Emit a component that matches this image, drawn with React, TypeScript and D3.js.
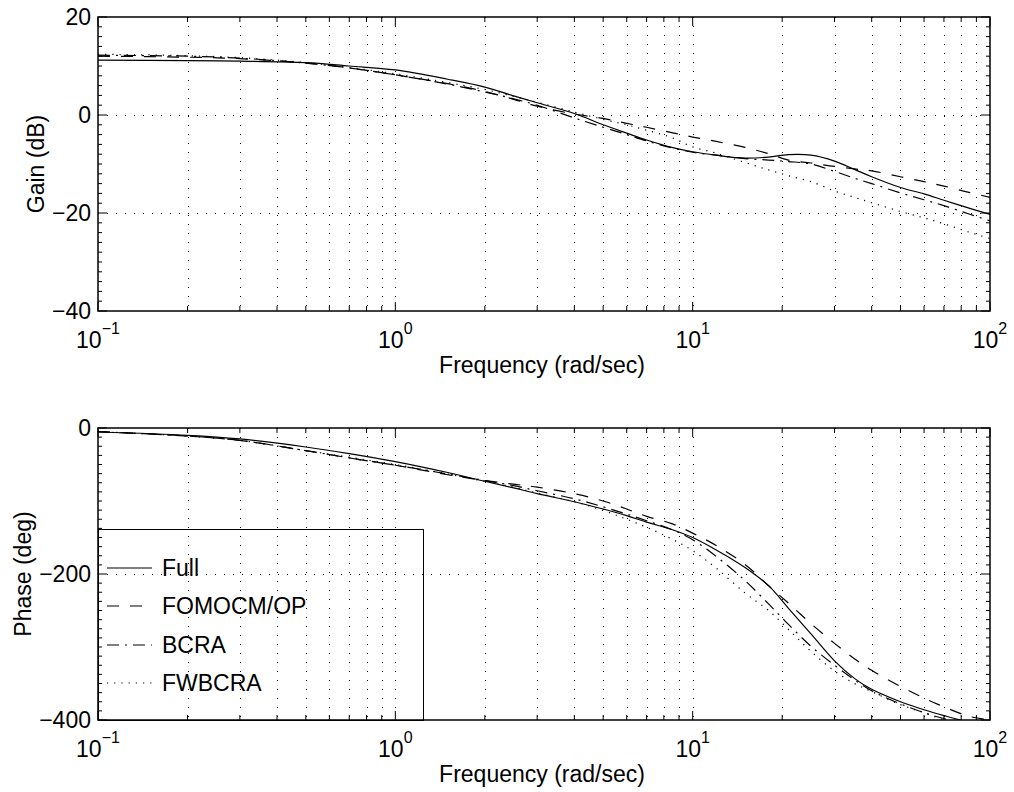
import React from "react";
import * as d3 from "d3";

// Frequencies (rad/sec) at which the curves were read
const FREQ = [0.1, 0.2, 0.3, 0.5, 0.7, 1, 1.5, 2, 2.5, 3, 4, 5, 6, 7, 8.5, 10, 12, 15, 18, 21, 25, 30, 35, 40, 50, 60, 70, 85, 100];

// Gain (dB)
const GAIN_FULL = [11.2, 11.1, 11.0, 10.7, 10.0, 9.2, 7.3, 5.7, 3.9, 2.5, 0.3, -2.0, -3.7, -5.1, -6.6, -7.5, -8.2, -8.8, -8.6, -8.1, -8.2, -9.4, -11.1, -12.6, -14.8, -16.1, -17.4, -19.0, -20.3];
const GAIN_FOMOCM = [12.0, 11.8, 11.5, 10.6, 9.6, 8.2, 6.4, 4.8, 3.2, 1.8, 0.2, -0.7, -1.7, -2.5, -3.6, -4.5, -5.4, -6.6, -7.9, -9.2, -9.8, -10.5, -11.0, -11.4, -12.6, -13.6, -14.5, -15.8, -16.8];
const GAIN_BCRA = [12.2, 12.0, 11.6, 10.6, 9.6, 8.2, 6.3, 4.7, 3.3, 2.0, -0.6, -2.5, -4.0, -5.3, -6.7, -7.6, -8.2, -8.9, -9.2, -9.5, -10.0, -11.5, -12.9, -14.0, -15.9, -17.3, -18.5, -20.2, -21.6];
const GAIN_FWBCRA = [12.4, 12.1, 11.7, 10.7, 9.7, 8.4, 6.6, 5.2, 3.8, 2.6, 0.6, -0.9, -2.0, -3.1, -4.6, -6.5, -7.8, -9.7, -11.2, -12.4, -13.6, -15.5, -16.8, -17.9, -19.7, -21.0, -22.2, -23.9, -25.2];

// Phase (deg)
const PHASE_FULL = [-5.5, -10, -15, -26, -35, -46, -61, -73, -82, -90, -101, -111, -120, -129, -139, -150, -167, -191, -216, -247, -282, -319, -343, -358, -375, -386, -394, -403, -408];
const PHASE_FOMOCM = [-5, -11, -17, -31, -41, -51, -64, -72, -77, -81, -90, -100, -111, -121, -131, -144, -161, -187, -216, -240, -268, -295, -316, -332, -354, -370, -382, -395, -400];
const PHASE_BCRA = [-5, -11, -17, -31, -41, -51, -63, -72, -79, -86, -97, -108, -118, -127, -139, -153, -176, -209, -241, -269, -299, -325, -345, -360, -378, -390, -398, -406, -412];
const PHASE_FWBCRA = [-5, -11, -17, -31, -40, -50, -63, -73, -81, -89, -101, -113, -125, -136, -152, -168, -192, -226, -250, -276, -306, -333, -350, -361, -379, -390, -400, -408, -414];

const SERIES_NAMES = ["Full", "FOMOCM/OP", "BCRA", "FWBCRA"];
const SERIES_DASH = [null, "12,11", "12,6,2,6", "1.2,6"];

const GAIN_TICKS = [-40, -20, 0, 20];
const PHASE_TICKS = [-400, -200, 0];
const DECADES = [-1, 0, 1, 2];

const FONT = "'Liberation Sans', Arial, Helvetica, sans-serif";

const W = 1014;
const H = 792;
const X0 = 98;
const X1 = 990;

const fmt = (v: number) => (v < 0 ? "\u2212" + Math.abs(v) : String(v));

function Panel({ top, bottom, domain, ticks, minorStep, series, ylabel, labelX, id }: any) {
  const x = d3.scaleLog().domain([0.1, 100]).range([X0, X1]);
  const y = d3.scaleLinear().domain(domain).range([bottom, top]);
  const minorX: number[] = [];
  [0.1, 1, 10].forEach((d) => {
    for (let k = 2; k <= 9; k++) minorX.push(k * d);
  });
  const majorX = DECADES.map((e) => Math.pow(10, e));
  const minorY = d3.range(domain[0], domain[1] + 1e-9, minorStep).filter((v: number) => !ticks.includes(v));
  const line = d3
    .line<[number, number]>()
    .x((d) => x(d[0]))
    .y((d) => y(d[1]))
    .curve(d3.curveCatmullRom.alpha(0.5));
  const gridX = [...minorX, 1, 10];
  const gridY = ticks.filter((t: number) => t !== domain[0] && t !== domain[1]);
  return (
    <g>
      <defs>
        <clipPath id={id}>
          <rect x={X0} y={top} width={X1 - X0} height={bottom - top} />
        </clipPath>
      </defs>
      {/* grid */}
      {gridX.map((v, i) => (
        <line key={"gx" + i} x1={Math.round(x(v)) + 0.5} x2={Math.round(x(v)) + 0.5} y1={top} y2={bottom} stroke="#000" strokeWidth={1} strokeDasharray="1,8" />
      ))}
      {gridY.map((v: number, i: number) => (
        <line key={"gy" + i} x1={X0} x2={X1} y1={Math.round(y(v)) + 0.5} y2={Math.round(y(v)) + 0.5} stroke="#000" strokeWidth={1} strokeDasharray="1,8" />
      ))}
      {/* curves */}
      <g clipPath={`url(#${id})`}>
        {series.map((vals: number[], i: number) => (
          <path
            key={"s" + i}
            d={line(FREQ.map((f, j) => [f, vals[j]]) as [number, number][]) || ""}
            fill="none"
            stroke="#000"
            strokeWidth={1.2}
            strokeDasharray={SERIES_DASH[i] || undefined}
          />
        ))}
      </g>
      {/* ticks */}
      {minorX.map((v, i) => (
        <g key={"mx" + i}>
          <line x1={x(v)} x2={x(v)} y1={bottom} y2={bottom - 5} stroke="#000" />
          <line x1={x(v)} x2={x(v)} y1={top} y2={top + 5} stroke="#000" />
        </g>
      ))}
      {majorX.map((v, i) => (
        <g key={"Mx" + i}>
          <line x1={x(v)} x2={x(v)} y1={bottom} y2={bottom - 9} stroke="#000" />
          <line x1={x(v)} x2={x(v)} y1={top} y2={top + 9} stroke="#000" />
        </g>
      ))}
      {minorY.map((v: number, i: number) => (
        <g key={"my" + i}>
          <line x1={X0} x2={X0 + 4} y1={y(v)} y2={y(v)} stroke="#000" />
          <line x1={X1} x2={X1 - 4} y1={y(v)} y2={y(v)} stroke="#000" />
        </g>
      ))}
      {ticks.map((v: number, i: number) => (
        <g key={"My" + i}>
          <line x1={X0} x2={X0 + 9} y1={y(v)} y2={y(v)} stroke="#000" />
          <line x1={X1} x2={X1 - 9} y1={y(v)} y2={y(v)} stroke="#000" />
          <text x={91} y={y(v) + 8} textAnchor="end" fontFamily={FONT} fontSize={23}>
            {fmt(v)}
          </text>
        </g>
      ))}
      {/* frame */}
      <rect x={X0} y={top} width={X1 - X0} height={bottom - top} fill="none" stroke="#000" strokeWidth={1.5} />
      {/* x tick labels */}
      {DECADES.map((e, i) => (
        <text key={"xl" + i} x={x(Math.pow(10, e))} y={bottom + 37} textAnchor="middle" fontFamily={FONT} fontSize={23}>
          10
          <tspan dy={-14} fontSize={16}>
            {fmt(e)}
          </tspan>
        </text>
      ))}
      <text x={(X0 + X1) / 2 - 2} y={bottom + 62} textAnchor="middle" fontFamily={FONT} fontSize={23}>
        Frequency (rad/sec)
      </text>
      <text transform={`translate(${labelX},${(top + bottom) / 2}) rotate(-90)`} textAnchor="middle" fontFamily={FONT} fontSize={23}>
        {ylabel}
      </text>
    </g>
  );
}

export default function App() {
  const legendTop = 529;
  const rows = [568, 606, 645, 683];
  return (
    <svg width={W} height={H} style={{ position: "absolute", left: 0, top: 0, background: "#fff" }}>
      <rect width={W} height={H} fill="#fff" />
      <Panel
        id="clipG"
        top={17}
        bottom={311}
        domain={[-40, 20]}
        ticks={GAIN_TICKS}
        minorStep={2}
        series={[GAIN_FULL, GAIN_FOMOCM, GAIN_BCRA, GAIN_FWBCRA]}
        ylabel="Gain (dB)"
        labelX={44}
      />
      <Panel
        id="clipP"
        top={428}
        bottom={720}
        domain={[-400, 0]}
        ticks={PHASE_TICKS}
        minorStep={12.5}
        series={[PHASE_FULL, PHASE_FOMOCM, PHASE_BCRA, PHASE_FWBCRA]}
        ylabel="Phase (deg)"
        labelX={31}
      />
      {/* legend */}
      <rect x={98.5} y={legendTop + 0.5} width={325} height={720 - legendTop} fill="none" stroke="#000" strokeWidth={1} />
      {SERIES_NAMES.map((name, i) => (
        <g key={name}>
          <line x1={107} x2={152} y1={rows[i]} y2={rows[i]} stroke="#000" strokeWidth={1.2} strokeDasharray={SERIES_DASH[i] || undefined} />
          <text x={162} y={rows[i] + 8} fontFamily={FONT} fontSize={23}>
            {name}
          </text>
        </g>
      ))}
    </svg>
  );
}
